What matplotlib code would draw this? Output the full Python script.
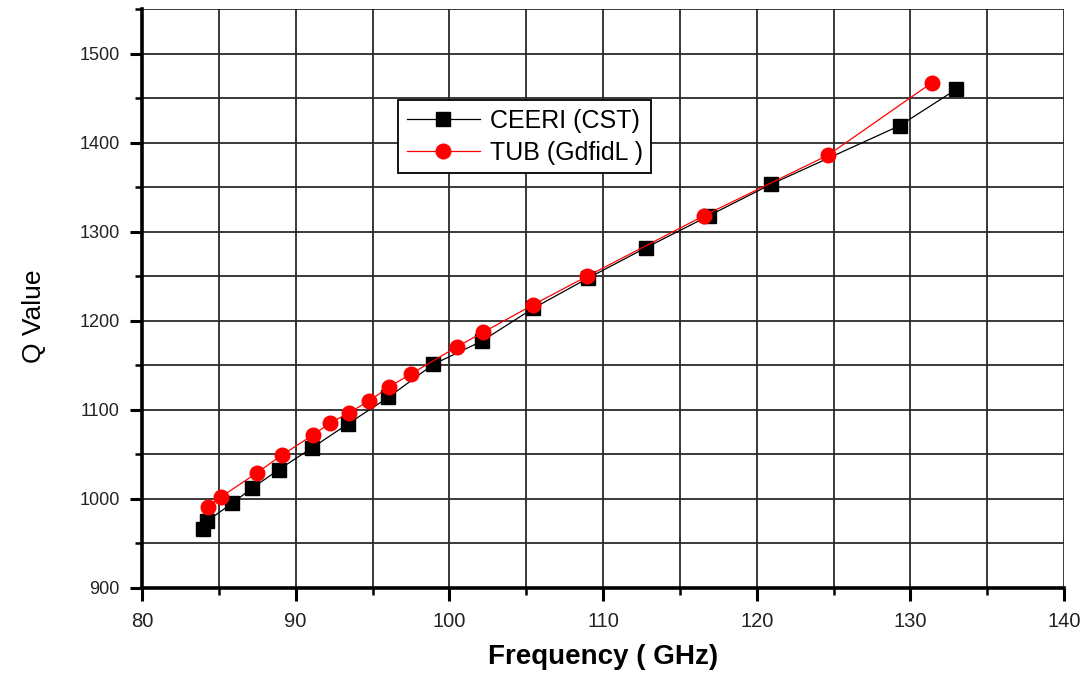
import matplotlib
matplotlib.use("Agg")
import matplotlib.pyplot as plt
from matplotlib.ticker import MultipleLocator

plt.rcParams['font.family'] = ['Liberation Sans', 'DejaVu Sans']

# CEERI (CST) simulation results
ceeri_freq = [83.97, 84.23, 85.86, 87.16, 88.91, 91.04, 93.38, 96.03, 98.95,
              102.1, 105.46, 109.04, 112.79, 116.9, 120.9, 129.3, 133.0]
ceeri_q = [966, 975, 995, 1012, 1033, 1057, 1084, 1114, 1151,
           1177, 1214, 1248, 1282, 1318, 1353, 1419, 1460]

# TUB (GdfidL) simulation results
tub_freq = [84.27, 85.12, 87.46, 89.09, 91.15, 92.23, 93.49, 94.79, 96.09,
            97.48, 100.52, 102.2, 105.46, 108.97, 116.57, 124.65, 131.38]
tub_q = [991, 1002, 1029, 1049, 1072, 1085, 1097, 1110, 1126,
         1140, 1171, 1187, 1218, 1250, 1318, 1386, 1467]

xticks = [80, 90, 100, 110, 120, 130, 140]
yticks = [900, 1000, 1100, 1200, 1300, 1400, 1500]

fig = plt.figure(figsize=(10.88, 6.77), dpi=100)
ax = fig.add_axes([0.1305, 0.1315, 0.8475, 0.8552])

ax.plot(ceeri_freq, ceeri_q, color='black', lw=0.9, marker='s', ms=10,
        mec='black', mfc='black', label='CEERI (CST)', zorder=3)
ax.plot(tub_freq, tub_q, color='red', lw=0.9, marker='o', ms=10.5,
        mec='red', mfc='red', label='TUB (GdfidL )', zorder=4)

ax.set_xlim(80, 140)
ax.set_ylim(900, 1550)
ax.set_xticks(xticks)
ax.set_yticks(yticks)
ax.xaxis.set_minor_locator(MultipleLocator(5))
ax.yaxis.set_minor_locator(MultipleLocator(50))

ax.grid(True, which='both', color='#2a2a2a', lw=1.3, zorder=0)
ax.set_axisbelow(True)

for side in ('top', 'right'):
    ax.spines[side].set_visible(False)
for side in ('left', 'bottom'):
    ax.spines[side].set_linewidth(2.6)

ax.tick_params(which='major', direction='out', length=9, width=2.2,
               pad=7, colors='black')
ax.tick_params(which='minor', direction='out', length=5, width=1.8)
ax.tick_params(axis='x', labelsize=14.5, labelcolor='#222222', pad=8)
ax.tick_params(axis='y', labelsize=13, labelcolor='#222222')

ax.set_xlabel('Frequency ( GHz)', fontsize=20, fontweight='bold', labelpad=10)
ax.set_ylabel('Q Value', fontsize=19)
ax.yaxis.set_label_coords(-0.104, 0.47)

leg = ax.legend(loc='upper left', bbox_to_anchor=(0.278, 0.842),
                fontsize=18, handlelength=2.9, handletextpad=0.4,
                borderpad=0.35, labelspacing=0.3, fancybox=False,
                framealpha=1, edgecolor='black', borderaxespad=0)
leg.get_frame().set_linewidth(1.3)

fig.savefig('out.png', dpi=100)
